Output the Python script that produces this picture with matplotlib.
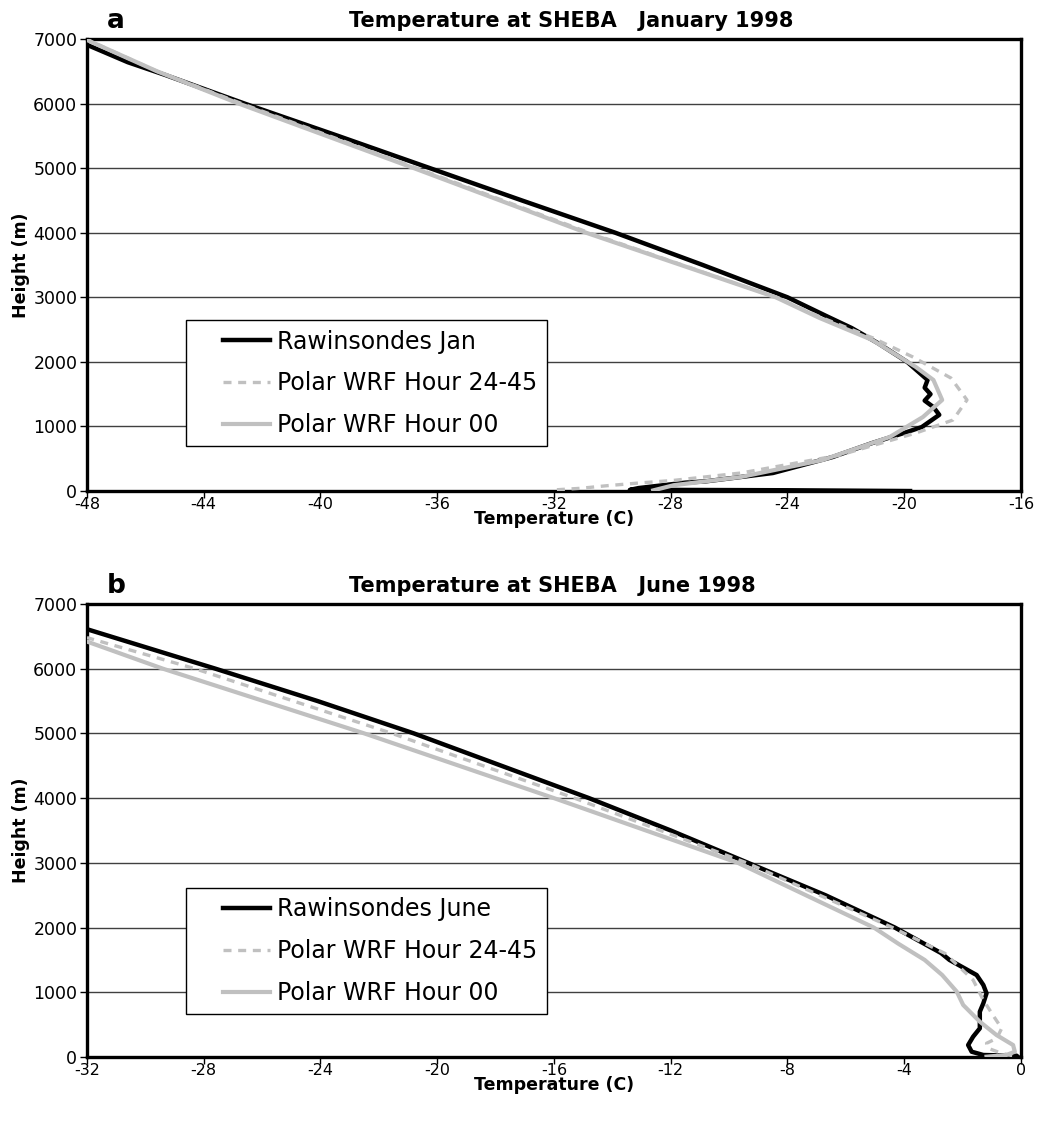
import matplotlib
matplotlib.use("Agg")
import matplotlib.pyplot as plt
from matplotlib.legend_handler import HandlerLine2D

plt.rcParams['font.family'] = ['DejaVu Sans']
plt.rcParams['axes.unicode_minus'] = False

# ---- January 1998 (panel a) ----
jan_obs_t = [-19.8, -24.0, -28.5, -29.4, -29.1, -27.5, -26.8, -24.5, -22.45, -21.1, -20.0, -19.4, -18.8,
             -19.0, -19.3, -19.1, -19.3, -19.2, -19.9, -20.9, -21.8, -22.6, -24.0, -26.9, -29.9,
             -33.1, -36.25, -39.4, -42.6, -45.3, -46.6, -48.0]
jan_obs_h = [0, 12, 18, 18, 46, 130, 150, 279, 527, 743, 900, 990, 1180,
             1300, 1400, 1500, 1600, 1720, 2000, 2290, 2524, 2695, 3000, 3500, 4000,
             4500, 5000, 5500, 6000, 6440, 6640, 6910]

jan_wrf24_t = [-31.9, -31.1, -30.2, -29.1, -27.9, -25.6, -22.2, -19.6, -18.33, -17.85, -18.4,
               -19.7, -21.07, -22.8, -24.4, -30.8, -36.7, -42.7, -45.6, -48.0]
jan_wrf24_h = [20, 42, 82, 124, 165, 279, 557, 898, 1100, 1410, 1750,
               2075, 2370, 2680, 3000, 4000, 5000, 6000, 6500, 6990]

jan_wrf00_t = [-28.6, -27.9, -25.6, -22.8, -20.5, -19.36, -18.7, -19.0, -19.6, -21.1, -22.9,
               -24.4, -30.9, -36.8, -42.8, -45.6, -48.0]
jan_wrf00_h = [10, 90, 217, 480, 836, 1146, 1410, 1720, 1920, 2340, 2680,
               3000, 4000, 5000, 6000, 6500, 6985]

# ---- June 1998 (panel b) ----
jun_obs_t = [-0.1, -0.15, -1.29, -1.69, -1.81, -1.64, -1.41, -1.41, -1.29, -1.18, -1.29, -1.52,
             -2.45, -2.74, -4.32, -6.7, -9.35, -12.0, -14.8, -17.8, -20.8, -24.1, -27.6, -32.0]
jun_obs_h = [0, 20, 31, 82, 185, 314, 443, 700, 830, 985, 1113, 1267,
             1500, 1607, 2000, 2500, 3000, 3500, 4000, 4500, 5000, 5500, 6000, 6610]

jun_wrf24_t = [-0.3, -0.66, -1.12, -1.18, -0.83, -0.66, -0.89, -1.29, -1.64, -2.6, -4.4,
               -9.4, -15.3, -21.55, -28.3, -32.0]
jun_wrf24_h = [20, 57, 134, 212, 289, 443, 598, 880, 1190, 1600, 2000,
               3000, 4000, 5000, 6000, 6480]

jun_wrf00_t = [-1.18, -0.5, -0.21, -0.27, -0.84, -1.41, -1.98, -2.2, -2.7, -3.3, -4.2, -5.04,
               -9.7, -16.0, -22.5, -29.4, -32.0]
jun_wrf00_h = [5, 31, 82, 185, 340, 546, 804, 1010, 1267, 1500, 1750, 2000,
               3000, 4000, 5000, 6000, 6419]

panels = [
    dict(letter="a", title="Temperature at SHEBA   January 1998", xlim=(-48, -16),
         obs=(jan_obs_t, jan_obs_h), w24=(jan_wrf24_t, jan_wrf24_h), w00=(jan_wrf00_t, jan_wrf00_h),
         obs_label="Rawinsondes Jan", rect=[0.0838, 0.5643, 0.8998, 0.4011], leg_y=0.378),
    dict(letter="b", title="Temperature at SHEBA   June 1998", xlim=(-32, 0),
         obs=(jun_obs_t, jun_obs_h), w24=(jun_wrf24_t, jun_wrf24_h), w00=(jun_wrf00_t, jun_wrf00_h),
         obs_label="Rawinsondes June", rect=[0.0838, 0.0621, 0.8998, 0.402], leg_y=0.373),
]

fig = plt.figure(figsize=(10.38, 11.27), dpi=100)

# legend handles are indented from the frame like in the original
handler = HandlerLine2D(xpad=1.15)

for p in panels:
    ax = fig.add_axes(p["rect"])
    l1, = ax.plot(*p["obs"], color="black", lw=3.2, label=p["obs_label"], zorder=3)
    l2, = ax.plot(*p["w24"], color="#c0c0c0", lw=2.4, ls=(0, (2.4, 2.0)), label="Polar WRF Hour 24-45", zorder=4)
    l3, = ax.plot(*p["w00"], color="#c0c0c0", lw=3.0, label="Polar WRF Hour 00", zorder=5)
    ax.set_xlim(*p["xlim"])
    ax.set_ylim(0, 7000)
    ax.set_xticks(range(p["xlim"][0], p["xlim"][1] + 1, 4))
    ax.set_yticks(range(0, 7001, 1000))
    ax.yaxis.grid(True, color="#404040", lw=1.0)
    ax.set_axisbelow(True)
    for s in ax.spines.values():
        s.set_linewidth(2.4)
    ax.tick_params(axis="x", direction="out", length=5, width=1, labelsize=11.5, pad=-1)
    ax.tick_params(axis="y", direction="out", length=5, width=1, labelsize=12.5, pad=2)
    ax.set_xlabel("Temperature (C)", fontsize=12.5, fontweight="bold", labelpad=-1)
    ax.set_ylabel("Height (m)", fontsize=12.5, fontweight="bold", labelpad=2)
    ax.text(0.2805, 1.0265, p["title"], transform=ax.transAxes, fontsize=15,
            fontweight="bold", va="baseline", ha="left")
    ax.text(0.0214, 1.024, p["letter"], transform=ax.transAxes, fontsize=19,
            fontweight="bold", va="baseline", ha="left")
    leg = ax.legend(handles=[l1, l2, l3], loc="upper left", bbox_to_anchor=(0.106, p["leg_y"]),
                    fontsize=17, frameon=True, fancybox=False, edgecolor="black",
                    handlelength=3.15, handletextpad=0.3, labelspacing=0.75, borderpad=0.4,
                    borderaxespad=0, framealpha=1,
                    handler_map={l1: handler, l2: handler, l3: handler})
    leg.get_frame().set_linewidth(1.0)

fig.savefig("out.png", dpi=100)
